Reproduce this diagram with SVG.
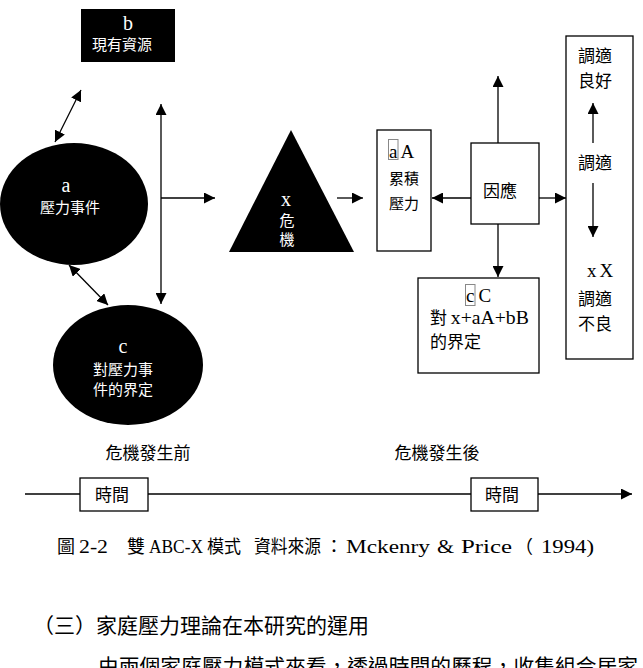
<svg xmlns="http://www.w3.org/2000/svg" width="643" height="668" viewBox="0 0 643 668">
<defs>
<marker id="ah" viewBox="0 0 10 10" refX="10" refY="5" markerWidth="11" markerHeight="11" markerUnits="userSpaceOnUse" orient="auto-start-reverse">
<path d="M0,0 L10,5 L0,10 z" fill="#000"/>
</marker>
<style>
text{font-family:"Noto Sans CJK TC","Liberation Sans",sans-serif;}
.w{fill:#fff;font-size:15px;}
.t{fill:#000;font-size:17px;}
.s{font-family:"Liberation Serif","Noto Sans CJK TC",serif;}
.big{font-size:20px;}
.box{fill:#fff;stroke:#000;stroke-width:1.3;}
.blk{fill:#000;}
.cur{fill:none;stroke:#888;stroke-width:1;}
.con line{stroke:#000;stroke-width:1.3;}
</style>
</defs>
<rect width="643" height="668" fill="#fff"/>

<g id="b">
<rect class="blk" x="81" y="9" width="94" height="53"/>
<text class="w s big" x="128" y="30" text-anchor="middle">b</text>
<text class="w" x="122" y="50" text-anchor="middle">現有資源</text>
</g>

<g id="a">
<ellipse class="blk" cx="74" cy="204" rx="74" ry="61"/>
<text class="w s big" x="66" y="192" text-anchor="middle">a</text>
<text class="w" x="70" y="213" text-anchor="middle">壓力事件</text>
</g>

<g id="c">
<ellipse class="blk" cx="128" cy="365" rx="75" ry="60"/>
<text class="w s big" x="123" y="353" text-anchor="middle">c</text>
<text class="w" x="123" y="375" text-anchor="middle">對壓力事</text>
<text class="w" x="123" y="395" text-anchor="middle">件的界定</text>
</g>

<g id="x">
<polygon class="blk" points="291,130 354,252 229,252"/>
<text class="w s big" x="286" y="206" text-anchor="middle">x</text>
<text class="w" x="287" y="226" text-anchor="middle">危</text>
<text class="w" x="287" y="245" text-anchor="middle">機</text>
</g>

<g id="aA">
<rect class="box" x="377" y="130" width="54" height="121"/>
<rect class="cur" x="388.5" y="139.5" width="9.5" height="20"/>
<text class="t s" style="font-size:19px" x="389" y="158">a<tspan dx="3">A</tspan></text>
<text class="w" style="fill:#000" x="389" y="184">累積</text>
<text class="w" style="fill:#000" x="389" y="209">壓力</text>
</g>

<g id="coping">
<rect class="box" x="471" y="143" width="68" height="81"/>
<text class="t" x="500" y="197" text-anchor="middle">因應</text>
</g>

<g id="cC">
<rect class="box" x="418" y="278" width="121" height="95"/>
<rect class="cur" x="465.5" y="284.5" width="9.5" height="21"/>
<text class="t s" style="font-size:19px" x="466" y="302">c<tspan dx="4">C</tspan></text>
<text class="t" x="430" y="324">對 <tspan class="s" style="font-size:19px" textLength="78" lengthAdjust="spacingAndGlyphs">x+aA+bB</tspan></text>
<text class="t" x="430" y="348">的界定</text>
</g>

<g id="adapt">
<rect class="box" x="566" y="36" width="67" height="323"/>
<text class="t" x="595" y="62" text-anchor="middle">調適</text>
<text class="t" x="595" y="87" text-anchor="middle">良好</text>
<text class="t" x="595" y="169" text-anchor="middle">調適</text>
<text class="t s" style="font-size:19px" x="600" y="277" text-anchor="middle">x<tspan dx="3">X</tspan></text>
<text class="t" x="595" y="305" text-anchor="middle">調適</text>
<text class="t" x="595" y="330" text-anchor="middle">不良</text>
</g>

<g id="connectors" class="con">
<line x1="55" y1="142" x2="81" y2="90" marker-start="url(#ah)" marker-end="url(#ah)"/>
<line x1="161" y1="104" x2="161" y2="304" marker-start="url(#ah)" marker-end="url(#ah)"/>
<line x1="161" y1="198" x2="215" y2="198" marker-end="url(#ah)"/>
<line x1="69" y1="265" x2="108" y2="305" marker-start="url(#ah)" marker-end="url(#ah)"/>
<line x1="337" y1="198" x2="363" y2="198" marker-end="url(#ah)"/>
<line x1="498" y1="143" x2="498" y2="76" marker-end="url(#ah)"/>
<line x1="471" y1="198" x2="432" y2="198" marker-end="url(#ah)"/>
<line x1="539" y1="198" x2="566" y2="198" marker-end="url(#ah)"/>
<line x1="498" y1="224" x2="498" y2="277" marker-end="url(#ah)"/>
<line x1="593" y1="143" x2="593" y2="103" marker-end="url(#ah)"/>
<line x1="593" y1="183" x2="593" y2="237" marker-end="url(#ah)"/>
<line x1="25" y1="494" x2="632" y2="494" marker-end="url(#ah)"/>
</g>

<g id="before">
<text class="t" x="148" y="459" text-anchor="middle">危機發生前</text>
</g>
<g id="after">
<text class="t" x="437" y="459" text-anchor="middle">危機發生後</text>
</g>

<g id="time1">
<rect class="box" x="80" y="478" width="68" height="33"/>
<text class="t" x="112" y="501" text-anchor="middle">時間</text>
</g>
<g id="time2">
<rect class="box" x="471" y="478" width="67" height="33"/>
<text class="t" x="502" y="501" text-anchor="middle">時間</text>
</g>

<g id="caption">
<text font-size="18" y="553"><tspan x="57">圖</tspan><tspan class="s" x="79" textLength="29" lengthAdjust="spacingAndGlyphs">2-2</tspan><tspan x="127">雙</tspan><tspan class="s" x="149" textLength="54" lengthAdjust="spacingAndGlyphs">ABC-X</tspan><tspan x="207" textLength="34" lengthAdjust="spacingAndGlyphs">模式</tspan><tspan x="254" textLength="67" lengthAdjust="spacingAndGlyphs">資料來源</tspan><tspan x="325">：</tspan><tspan class="s" x="346" textLength="84" lengthAdjust="spacingAndGlyphs">Mckenry</tspan><tspan class="s" x="437" textLength="17" lengthAdjust="spacingAndGlyphs">&amp;</tspan><tspan class="s" x="461" textLength="51" lengthAdjust="spacingAndGlyphs">Price</tspan><tspan x="515">（</tspan><tspan class="s" x="541" textLength="53" lengthAdjust="spacingAndGlyphs">1994)</tspan></text>
</g>

<g id="section">
<text font-size="21" x="33" y="633">（三）家庭壓力理論在本研究的運用</text>
<text font-size="20.5" x="98" y="674" textLength="540" lengthAdjust="spacingAndGlyphs">由兩個家庭壓力模式來看，透過時間的歷程，收集組合居家</text>
</g>
</svg>
